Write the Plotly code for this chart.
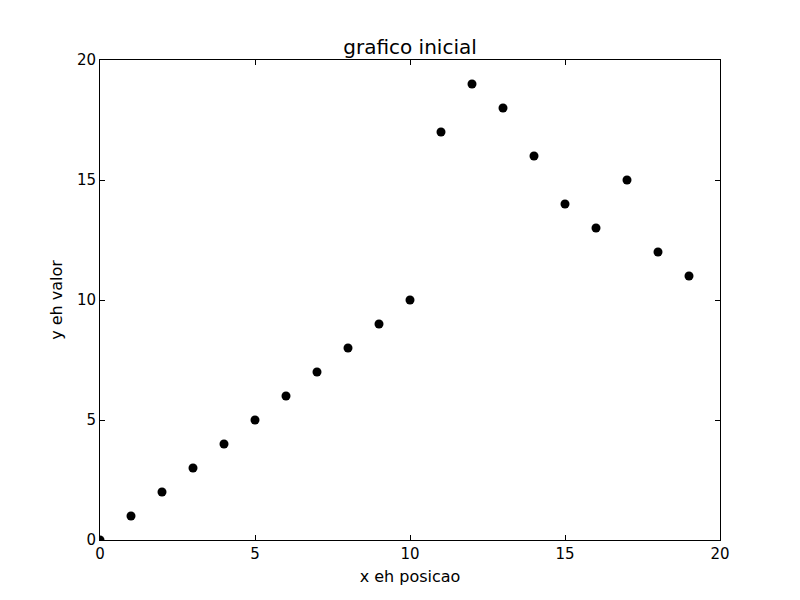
import plotly.graph_objects as go

# dados
posicao = list(range(20))
valor = [0, 1, 2, 3, 4, 5, 6, 7, 8, 9, 10, 17, 19, 18, 16, 14, 13, 15, 12, 11]
titulo = "grafico inicial"
rotulo_x = "x eh posicao"
rotulo_y = "y eh valor"

fig = go.Figure()
fig.add_trace(go.Scatter(x=posicao, y=valor,
                         mode='markers',
                         marker=dict(color='black', size=9),
                         cliponaxis=True,
                         showlegend=False))

eixo = dict(
    showgrid=False,
    zeroline=False,
    showline=True,
    linecolor='black',
    linewidth=1,
    mirror='ticks',
    ticks='inside',
    ticklen=5,
    tickcolor='black',
    tickfont=dict(size=15, color='black'),
    tick0=0,
    dtick=5,
)

# a pagina desloca tudo 8px, por isso as margens compensam
fig.update_layout(
    width=800,
    height=600,
    paper_bgcolor='white',
    plot_bgcolor='white',
    font=dict(family='DejaVu Sans', color='black'),
    margin=dict(l=92, r=88, t=52, b=68, pad=0),
    title=dict(text=titulo, x=(92 + 310) / 800, xanchor='center', y=1 - 39 / 600,
               yanchor='middle', font=dict(size=20, color='black')),
    xaxis=dict(eixo, range=[0, 20], title=dict(text=rotulo_x, font=dict(size=16), standoff=8)),
    yaxis=dict(eixo, range=[0, 20], title=dict(text=rotulo_y, font=dict(size=16), standoff=10)),
)

fig.write_html("out.html")
